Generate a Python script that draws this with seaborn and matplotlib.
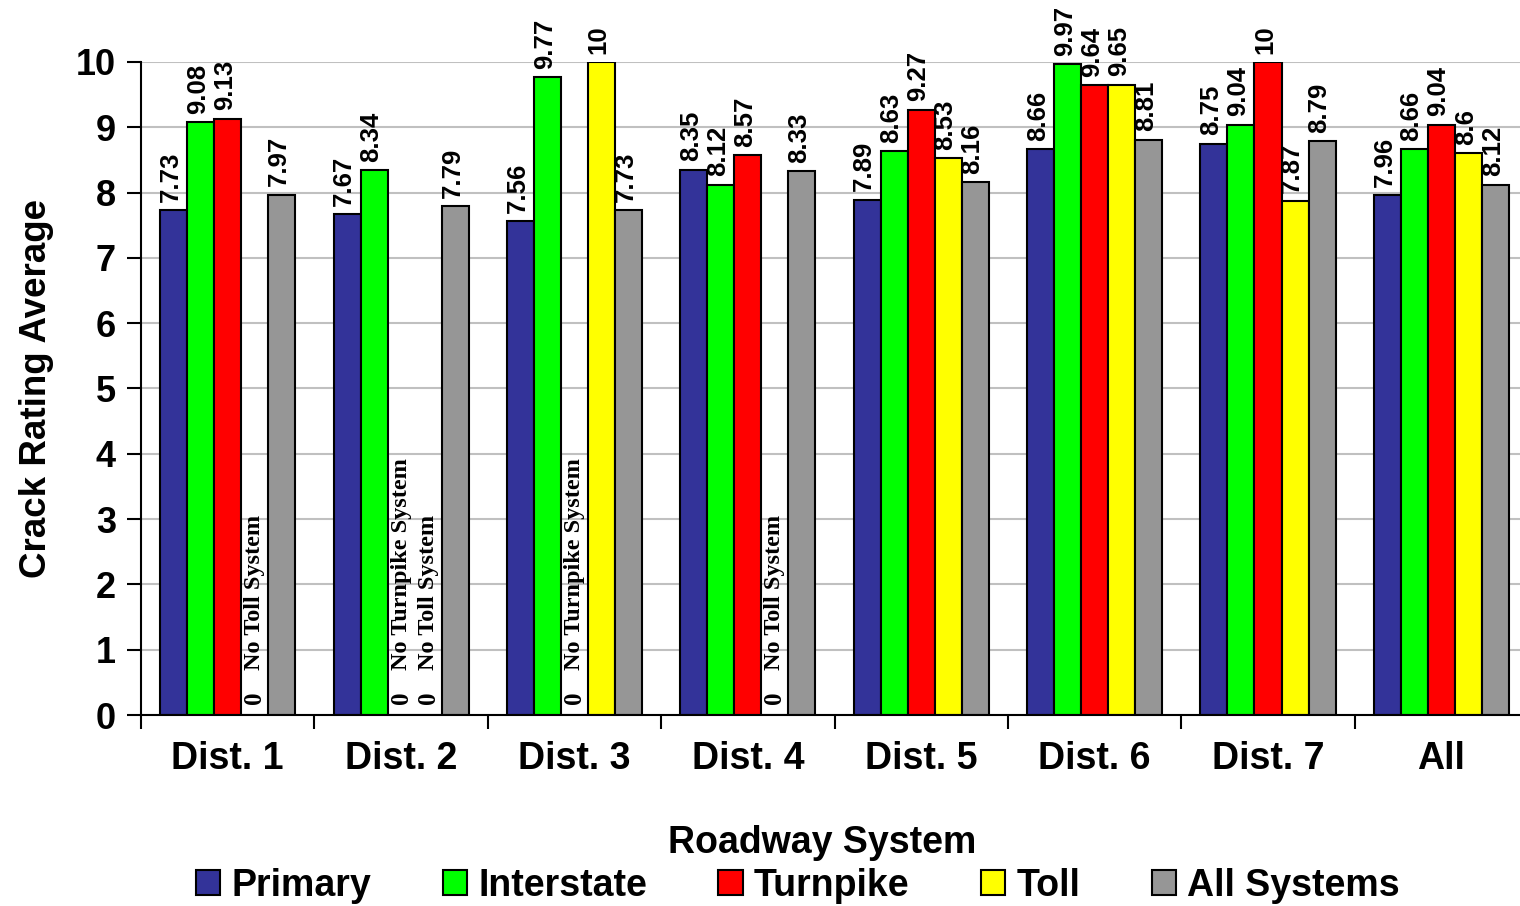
import pandas as pd
import matplotlib
matplotlib.use('Agg')
import matplotlib.pyplot as plt
import numpy as np
import seaborn as sns

# data
districts = ['Dist. 1', 'Dist. 2', 'Dist. 3', 'Dist. 4', 'Dist. 5', 'Dist. 6', 'Dist. 7', 'All']
systems = ['Primary', 'Interstate', 'Turnpike', 'Toll', 'All Systems']
primary = [7.73, 7.67, 7.56, 8.35, 7.89, 8.66, 8.75, 7.96]
interstate = [9.08, 8.34, 9.77, 8.12, 8.63, 9.97, 9.04, 8.66]
turnpike = [9.13, 0, 0, 8.57, 9.27, 9.64, 10, 9.04]
toll = [0, 0, 10, 0, 8.53, 9.65, 7.87, 8.6]
all_systems = [7.97, 7.79, 7.73, 8.33, 8.16, 8.81, 8.79, 8.12]
colors = ['#333399', '#00FF00', '#FF0000', '#FFFF00', '#969696']

rows = []
for name, vals in zip(systems, [primary, interstate, turnpike, toll, all_systems]):
    for d, v in zip(districts, vals):
        rows.append({'district': d, 'system': name, 'rating': v})
df = pd.DataFrame(rows)

sns.set_style('white')
plt.rcParams['font.family'] = ['Liberation Sans', 'DejaVu Sans']
plt.rcParams['font.weight'] = 'bold'
plt.rcParams['text.color'] = 'black'
plt.rcParams['axes.labelcolor'] = 'black'
plt.rcParams['xtick.color'] = 'black'
plt.rcParams['ytick.color'] = 'black'

fig = plt.figure(figsize=(15.2, 9.06), dpi=100)
ax = fig.add_axes([0.0928, 0.2108, 0.9125, 0.7208])

sns.barplot(data=df, x='district', y='rating', hue='system', order=districts,
            hue_order=systems, palette=colors, width=0.78, gap=0,
            edgecolor='black', linewidth=1.5, saturation=1, ax=ax)
handles, labels = ax.get_legend_handles_labels()
ax.get_legend().remove()

ax.set_ylim(0, 10)
ax.set_xlim(-0.5, 7.5)
ax.set_yticks(range(0, 11))
ax.yaxis.grid(True, color='#c0c0c0', linewidth=1.5)
ax.set_axisbelow(True)
for s in ['top', 'right']:
    ax.spines[s].set_visible(False)
for s in ['left', 'bottom']:
    ax.spines[s].set_color('black')
    ax.spines[s].set_linewidth(1.5)

ax.tick_params(axis='y', direction='out', length=10, width=1.5, color='black', pad=8, labelsize=26, left=True)
ax.set_xticks(np.arange(-0.5, 8, 1), minor=True)
ax.tick_params(axis='x', which='minor', direction='out', length=10, width=1.5, color='black', bottom=True)
ax.tick_params(axis='x', which='major', length=0, pad=19, labelsize=27)
for t in ax.get_xticklabels() + ax.get_yticklabels():
    t.set_fontweight('bold')

ax.set_ylabel('Crack Rating Average', fontsize=26.5, fontweight='bold', labelpad=16)
ax.set_xlabel('')
fig.text(0.541, 0.069, 'Roadway System', ha='center', va='center', fontsize=27, fontweight='bold')

# value labels
missing = {'Turnpike': 'No Turnpike System', 'Toll': 'No Toll System'}
for name, cont in zip(systems, ax.containers):
    for bar in cont:
        h = bar.get_height()
        xc = bar.get_x() + bar.get_width() / 2
        if h > 0:
            ax.annotate(f'{h:g}', (xc, h), xytext=(-2, 6), textcoords='offset points',
                        rotation=90, ha='center', va='bottom', fontsize=18.5,
                        fontweight='bold', annotation_clip=False)
        else:
            ax.annotate('0', (xc, 0), xytext=(0, 8), textcoords='offset points',
                        rotation=90, ha='center', va='bottom', fontsize=18,
                        fontweight='bold', family='Liberation Serif')
            ax.text(xc, 0.69, missing[name], rotation=90, ha='center', va='bottom',
                    fontsize=17.5, fontweight='bold', family='Liberation Serif')

fig.legend(handles, labels, loc='center', bbox_to_anchor=(0.525, 0.022), ncol=5,
           frameon=False, fontsize=27, handlelength=0.65, handleheight=0.65,
           handletextpad=0.3, columnspacing=1.9, borderaxespad=0)

fig.savefig('out.png', dpi=100)
